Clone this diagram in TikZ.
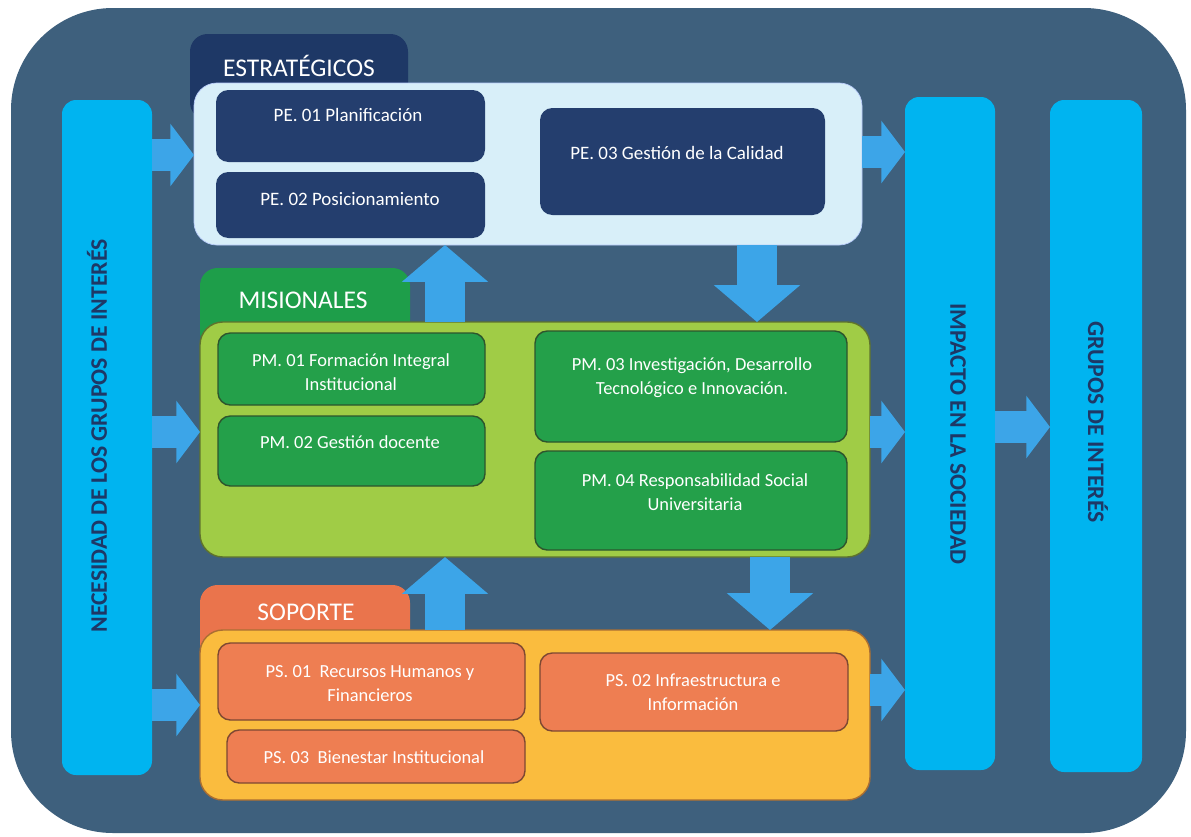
\documentclass[tikz,border=0pt]{standalone}
\usepackage{fontspec}
\setmainfont{Carlito}
\usetikzlibrary{arrows.meta,calc}
\definecolor{bgc}{RGB}{62,96,125}
\definecolor{barc}{RGB}{0,180,240}
\definecolor{arrc}{RGB}{60,165,232}
\definecolor{navy}{RGB}{30,56,102}
\definecolor{navybox}{RGB}{36,62,110}
\definecolor{pale}{RGB}{216,239,249}
\definecolor{mtab}{RGB}{30,158,74}
\definecolor{mpanel}{RGB}{160,204,70}
\definecolor{mpanelb}{RGB}{95,115,45}
\definecolor{mbox}{RGB}{36,160,74}
\definecolor{mboxb}{RGB}{45,85,45}
\definecolor{stab}{RGB}{234,116,76}
\definecolor{spanel}{RGB}{250,188,62}
\definecolor{spanelb}{RGB}{170,110,50}
\definecolor{sbox}{RGB}{238,126,82}
\definecolor{sboxb}{RGB}{125,72,50}
\newcommand\drawbox[7]{\node[#2, minimum width={(#5-#3)*0.02cm}, minimum height={(#6-#4)*0.02cm}] (#1) at ({(#3+#5)/2},{(#4+#6)/2}) {#7};}
\tikzset{
  base/.style={inner sep=0pt, outer sep=0pt, rectangle},
  bar/.style={base, fill=barc, rounded corners=8pt},
  tabbox/.style={base, rounded corners=10pt},
  panel/.style={base, rounded corners=13pt},
  inbox/.style={base, rounded corners=7pt},
  txt/.style={text=white, align=center, font=\fontsize{10.8}{13}\selectfont},
  txtb/.style={text=white, align=center, font=\fontsize{10.5}{13.6}\selectfont},
  tabtxt/.style={text=white, font=\fontsize{14.5}{16}\selectfont},
  bartxt/.style={text=navy, font=\bfseries\fontsize{13.5}{15}\selectfont},
  harrow/.style={draw=arrc, line width=18pt, -{Triangle[length=13.5pt,width=35pt]}},
  varrow/.style={draw=arrc, line width=22.5pt, -{Triangle[length=21pt,width=48pt]}},
}
\begin{document}
\begin{tikzpicture}[x=0.02cm,y=-0.02cm]
\useasboundingbox (0,0) rectangle (1191,836);
\fill[white] (0,0) rectangle (1191,836);
\fill[bgc, rounded corners=58pt] (11,8) rectangle (1186,833);
% side bars
\drawbox{nec}{bar}{62}{100}{152}{775}{}
\drawbox{imp}{bar}{905}{97}{995}{770}{}
\drawbox{grp}{bar}{1050}{100}{1142}{772}{}
\node[bartxt, rotate=90] (nect) at (97,436) {NECESIDAD DE LOS GRUPOS DE INTERÉS};
\node[bartxt, rotate=-90] (impt) at (958,434) {IMPACTO EN LA SOCIEDAD};
\node[bartxt, rotate=-90] (grpt) at (1098,422) {GRUPOS DE INTERÉS};
% tabs
\drawbox{etab}{tabbox, fill=navy}{190}{34}{408}{120}{}
\drawbox{mtabn}{tabbox, fill=mtab}{200}{268}{410}{350}{}
\drawbox{stabn}{tabbox, fill=stab}{200}{585}{410}{660}{}
\node[tabtxt] (etabt) at (299,66) {ESTRATÉGICOS};
\node[tabtxt] (mtabt) at (303,300) {MISIONALES};
\node[tabtxt] (stabt) at (306,612) {SOPORTE};
% panels
\drawbox{estr}{panel, fill=pale, draw=pale!85!blue}{194}{83}{862}{245}{}
\drawbox{mis}{panel, fill=mpanel, draw=mpanelb, line width=0.8pt}{200}{322}{870}{557}{}
\drawbox{sop}{panel, fill=spanel, draw=spanelb, line width=0.8pt}{200}{630}{870}{800}{}
% estrategicos boxes
\drawbox{pe1}{inbox, fill=navybox}{216}{90}{485}{162}{}
\drawbox{pe2}{inbox, fill=navybox}{216}{172}{485}{238}{}
\drawbox{pe3}{inbox, fill=navybox}{540}{108}{825}{215}{}
\node[txt] (pe1t) at (348,115) {PE. 01 Planificación};
\node[txt] (pe2t) at (350,199) {PE. 02 Posicionamiento};
\node[txt] (pe3t) at (677,153) {PE. 03 Gestión de la Calidad};
% misionales boxes
\drawbox{pm1}{inbox, fill=mbox, draw=mboxb, line width=0.8pt}{218}{333}{485}{405}{}
\drawbox{pm2}{inbox, fill=mbox, draw=mboxb, line width=0.8pt}{218}{416}{485}{486}{}
\drawbox{pm3}{inbox, fill=mbox, draw=mboxb, line width=0.8pt}{535}{331}{847}{442}{}
\drawbox{pm4}{inbox, fill=mbox, draw=mboxb, line width=0.8pt}{535}{451}{847}{550}{}
\node[txtb] (pm1t) at (351,372) {PM. 01 Formación Integral\\Institucional};
\node[txtb] (pm2t) at (350,442) {PM. 02 Gestión docente};
\node[txtb] (pm3t) at (692,378) {PM. 03 Investigación, Desarrollo\\Tecnológico e Innovación.};
\node[txtb] (pm4t) at (695,492) {PM. 04 Responsabilidad Social\\Universitaria};
% soporte boxes
\drawbox{ps1}{inbox, fill=sbox, draw=sboxb, line width=0.8pt}{218}{643}{525}{720}{}
\drawbox{ps3}{inbox, fill=sbox, draw=sboxb, line width=0.8pt}{227}{730}{525}{783}{}
\drawbox{ps2}{inbox, fill=sbox, draw=sboxb, line width=0.8pt}{540}{653}{848}{731}{}
\node[txtb] (ps1t) at (370,684) {PS. 01\ \ Recursos Humanos y\\Financieros};
\node[txtb] (ps3t) at (374,757) {PS. 03\ \ Bienestar Institucional};
\node[txtb] (ps2t) at (693,692) {PS. 02 Infraestructura e\\Información};
% arrows left
\draw[harrow] (nec.east |- 0,155) -- (estr.west |- 0,155);
\draw[harrow] (nec.east |- 0,432) -- (mis.west |- 0,432);
\draw[harrow] (nec.east |- 0,705) -- (sop.west |- 0,705);
% arrows right
\draw[harrow] (estr.east |- 0,152) -- (imp.west |- 0,152);
\draw[harrow] (mis.east |- 0,432) -- (imp.west |- 0,432);
\draw[harrow] (sop.east |- 0,690) -- (imp.west |- 0,690);
\draw[harrow] (imp.east |- 0,427) -- (grp.west |- 0,427);
% vertical arrows
\draw[varrow] (mis.north -| 445,0) -- (estr.south -| 445,0);
\draw[varrow] (estr.south -| 757,0) -- (mis.north -| 757,0);
\draw[varrow] (sop.north -| 445,0) -- (mis.south -| 445,0);
\draw[varrow] (mis.south -| 770,0) -- (sop.north -| 770,0);
\end{tikzpicture}
\end{document}
